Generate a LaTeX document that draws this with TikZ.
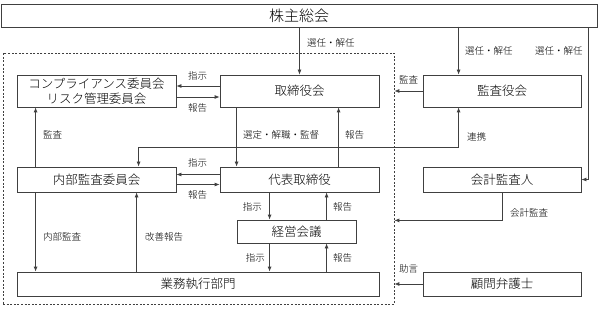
\documentclass[tikz,border=0pt]{standalone}
\usepackage{fontspec}
\newfontfamily\jpfont{Noto Sans CJK JP Light}
\usetikzlibrary{
  arrows.meta,
  calc
}

\begin{document}
\begin{tikzpicture}[
  x=1pt, y=-1pt,
  box/.style={
    draw=black!75,
    line width=0.8pt,
    inner sep=0pt,
    align=center,
    font=\jpfont\fontsize{12.5}{15}\selectfont
  },
  group/.style={
    draw=black!75,
    line width=0.7pt,
    dash pattern=on 2pt off 1.6pt
  },
  lbl/.style={font=\jpfont\fontsize{9.5}{11}\selectfont, inner sep=0pt},
  arrow/.style={-{Latex[length=5pt,width=4pt]}, draw=black!75, line width=0.8pt},
  biarrow/.style={{Latex[length=5pt,width=4pt]}-{Latex[length=5pt,width=4pt]}, draw=black!75, line width=0.8pt}
]

% Canvas
\useasboundingbox (0,0) rectangle (598,313);
\fill[white] (0,0) rectangle (598,313);

% ==================== SHAREHOLDERS ====================
\node[box, minimum width=596pt, minimum height=23pt, font=\jpfont\fontsize{15}{17}\selectfont] (soukai) at (299,15.5) {株主総会};

% Company (dashed)
\node[group, minimum width=391pt, minimum height=251pt] (company) at (198.5,178.5) {};

% ==================== TOP ROW ====================
\node[box, minimum width=159pt, minimum height=32pt] (comp) at (96.5,91) {コンプライアンス委員会\\リスク管理委員会};
\node[box, minimum width=159pt, minimum height=32pt] (board) at (299.5,91) {取締役会};
\node[box, minimum width=158pt, minimum height=32pt] (kansayaku) at (502,91) {監査役会};

% ==================== MIDDLE ROW ====================
\node[box, minimum width=159pt, minimum height=25pt] (naibu) at (96.5,179.5) {内部監査委員会};
\node[box, minimum width=159pt, minimum height=25pt] (ceo) at (299.5,179.5) {代表取締役};
\node[box, minimum width=158pt, minimum height=25pt] (auditor) at (502,179.5) {会計監査人};

\node[box, minimum width=119pt, minimum height=23pt] (keiei) at (296.5,231.5) {経営会議};

% ==================== BOTTOM ROW ====================
\node[box, minimum width=362pt, minimum height=24pt] (gyomu) at (198,284) {業務執行部門};
\node[box, minimum width=158pt, minimum height=24pt] (bengo) at (502,284) {顧問弁護士};

% Shareholders arrows
\draw[arrow] (soukai.south -| board.north) -- (board.north);
\draw[arrow] ($(kansayaku.north west)+(36,0)$) ++(0,-48) -- ($(kansayaku.north west)+(36,0)$);
\draw[arrow] ($(soukai.south east)+(-9,0)$) |- (auditor.east);

% Board <-> committees
\draw[arrow] ($(board.west)+(0,-5)$) -- ($(comp.east)+(0,-5)$);
\draw[arrow] ($(comp.east)+(0,6)$) -- ($(board.west)+(0,6)$);
\draw[arrow] ($(naibu.north west)+(19,0)$) -- ($(comp.south west)+(19,0)$);

% Board <-> CEO
\draw[arrow] ($(board.south west)+(17,0)$) -- ($(ceo.north west)+(17,0)$);
\draw[arrow] ($(ceo.north west)+(119,0)$) -- ($(board.south west)+(119,0)$);

% Cooperation
\draw[biarrow] ($(kansayaku.south west)+(36,0)$) -- ++(0,40) -| ($(naibu.north west)+(122,0)$);

% CEO <-> internal audit
\draw[arrow] ($(ceo.west)+(0,-5)$) -- ($(naibu.east)+(0,-5)$);
\draw[arrow] ($(naibu.east)+(0,5)$) -- ($(ceo.west)+(0,5)$);

% CEO <-> management meeting <-> operations
\draw[arrow] ($(ceo.south west)+(50,0)$) -- ($(keiei.north west)+(33,0)$);
\draw[arrow] ($(keiei.north west)+(90,0)$) -- ($(ceo.south west)+(107,0)$);
\draw[arrow] ($(keiei.south west)+(33,0)$) -- ($(gyomu.north west)+(253,0)$);
\draw[arrow] ($(gyomu.north west)+(310,0)$) -- ($(keiei.south west)+(90,0)$);

% Internal audit <-> operations
\draw[arrow] ($(naibu.south west)+(19,0)$) -- ($(gyomu.north west)+(19,0)$);
\draw[arrow] ($(gyomu.north west)+(120,0)$) -- ($(naibu.south west)+(120,0)$);

% Outside -> company
\draw[arrow] (kansayaku.west) -- (company.east |- kansayaku.west);
\draw[arrow] (auditor.south) -- ++(0,28) coordinate (kaikei) -- (company.east |- kaikei);
\draw[arrow] (bengo.west) -- (company.east |- bengo.west);

% Labels
\node[lbl, anchor=west] (l1) at (307,43) {選任・解任};
\node[lbl, anchor=west] (l2) at (465,51) {選任・解任};
\node[lbl, anchor=west] (l3) at (535,51) {選任・解任};
\node[lbl] (l4) at (197.5,76) {指示};
\node[lbl] (l5) at (197.5,108) {報告};
\node[lbl, anchor=west] (l6) at (43,135) {監査};
\node[lbl, anchor=west] (l7) at (243,135) {選定・解職・監督};
\node[lbl, anchor=west] (l8) at (345,135) {報告};
\node[lbl, anchor=west] (l9) at (399,80) {監査};
\node[lbl, anchor=west] (l10) at (467,137) {連携};
\node[lbl] (l11) at (197.5,163) {指示};
\node[lbl] (l12) at (197.5,195) {報告};
\node[lbl, anchor=east] (l13) at (262,207) {指示};
\node[lbl, anchor=west] (l14) at (333,207) {報告};
\node[lbl, anchor=east] (l15) at (265,258) {指示};
\node[lbl, anchor=west] (l16) at (333,258) {報告};
\node[lbl, anchor=west] (l17) at (43,237) {内部監査};
\node[lbl, anchor=west] (l18) at (145,237) {改善報告};
\node[lbl, anchor=west] (l19) at (510,213) {会計監査};
\node[lbl, anchor=west] (l20) at (399,269) {助言};

\end{tikzpicture}
\end{document}
